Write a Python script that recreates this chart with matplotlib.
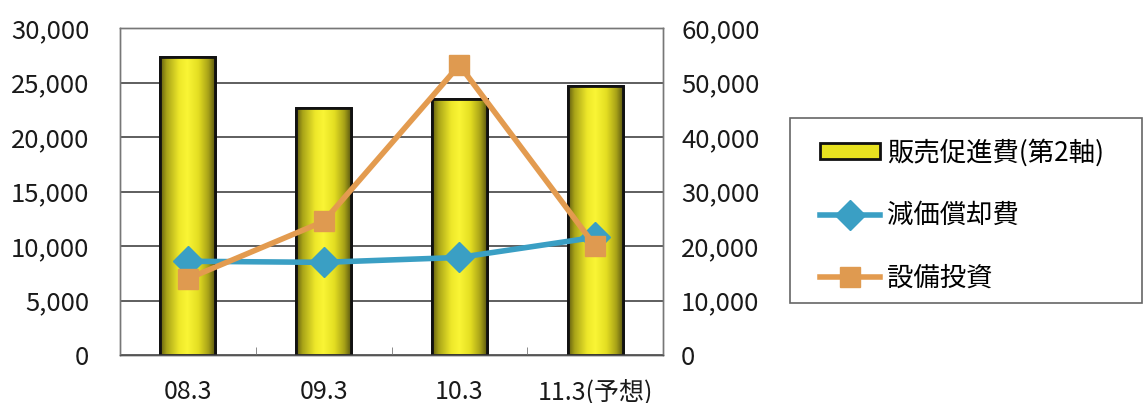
import matplotlib
matplotlib.use("Agg")
import matplotlib.pyplot as plt
import numpy as np
from matplotlib.colors import LinearSegmentedColormap
from matplotlib.lines import Line2D
from matplotlib.patches import Rectangle

plt.rcParams['font.family'] = ['Noto Sans CJK JP', 'DejaVu Sans']

categories = ['08.3', '09.3', '10.3', '11.3(予想)']
promo = [54600, 45300, 47000, 49300]          # 販売促進費(第2軸)
depreciation = [8600, 8500, 8950, 10800]      # 減価償却費
capex = [7000, 12250, 26600, 10000]           # 設備投資
left_ticks = [0, 5000, 10000, 15000, 20000, 25000, 30000]
right_ticks = [0, 10000, 20000, 30000, 40000, 50000, 60000]

W, H = 1144, 403
fig = plt.figure(figsize=(W / 100, H / 100), dpi=100)
ax = fig.add_axes([120 / W, 1 - 355 / H, (663 - 120) / W, (355 - 28) / H])
ax2 = ax.twinx()
ax.set_zorder(ax2.get_zorder() + 1)
ax.patch.set_visible(False)

x = np.arange(len(categories))
cmap = LinearSegmentedColormap.from_list('cyl', [
    (0.0, '#5e5a10'), (0.12, '#a9a418'), (0.35, '#eee82a'),
    (0.5, '#faf535'), (0.7, '#e4de22'), (0.88, '#a8a218'), (1.0, '#5e5a10')])
bars = ax2.bar(x, promo, width=0.405, facecolor='#f0ea20', edgecolor='#111111',
               linewidth=2, zorder=2)
grad = np.linspace(0, 1, 256).reshape(1, -1)
for b in bars:
    bx, by = b.get_x(), b.get_y()
    bw, bh = b.get_width(), b.get_height()
    im = ax2.imshow(grad, cmap=cmap, aspect='auto', extent=[bx, bx + bw, by, by + bh],
                    zorder=2.1, interpolation='bicubic')
    im.set_clip_path(b)
    ax2.add_patch(Rectangle((bx, by), bw, bh, fill=False, edgecolor='#111111',
                            linewidth=2, zorder=2.2))

blue = '#3a9fc4'
orange = '#e39b4f'
ax.plot(x, depreciation, color=blue, lw=4, marker='D', markersize=15,
        markerfacecolor=blue, markeredgecolor=blue, zorder=3)
ax.plot(x, capex, color=orange, lw=4, marker='s', markersize=15,
        markerfacecolor='#df9a50', markeredgecolor='#df9a50', zorder=4)

ax.set_xlim(-0.5, len(categories) - 0.5)
ax.set_ylim(0, 30000)
ax2.set_ylim(0, 60000)
ax.set_yticks(left_ticks)
ax.set_yticklabels([f'{v:,}' for v in left_ticks])
ax2.set_yticks(right_ticks)
ax2.set_yticklabels([f'{v:,}' for v in right_ticks])
ax.set_xticks(x)
ax.set_xticklabels(categories)
ax.set_xticks([0.5, 1.5, 2.5], minor=True)

ax2.yaxis.grid(True, color='#333333', lw=1.1)
ax2.set_axisbelow(True)

ax.tick_params(axis='y', length=0, pad=22, labelsize=18.5, labelcolor='#1a1a1a')
ax2.tick_params(axis='y', length=0, pad=13, labelsize=18.5, labelcolor='#1a1a1a')
ax.tick_params(axis='x', which='major', length=0, pad=17, labelsize=18, labelcolor='#1a1a1a')
ax.tick_params(axis='x', which='minor', length=6, direction='in', color='#777777')
ax2.tick_params(axis='x', length=0)

for a in (ax, ax2):
    for s in a.spines.values():
        s.set_color('#777777')
        s.set_linewidth(1)
ax.spines['bottom'].set_color('#555555')

# legend frame
fig.patches.append(Rectangle((790 / W, 1 - 303 / H), (1142 - 790) / W, (303 - 118) / H,
                             transform=fig.transFigure, fill=False,
                             edgecolor='#666666', lw=1.2))
handles = [
    Rectangle((0, 0), 1, 1, facecolor='#e8e220', edgecolor='#111111', lw=2),
    Line2D([], [], color=blue, lw=4, marker='D', markersize=15),
    Line2D([], [], color=orange, lw=4, marker='s', markersize=15, markerfacecolor='#df9a50',
           markeredgecolor='#df9a50'),
]
labels = ['販売促進費(第2軸)', '減価償却費', '設備投資']
fig.legend(handles, labels, loc='upper left', bbox_to_anchor=(820 / W, 1 - 139 / H),
           frameon=False, fontsize=19, handlelength=2.27, handleheight=0.55,
           handletextpad=0.27, labelspacing=1.35, borderaxespad=0, borderpad=0)

fig.savefig('out.png', dpi=100, facecolor='white')
